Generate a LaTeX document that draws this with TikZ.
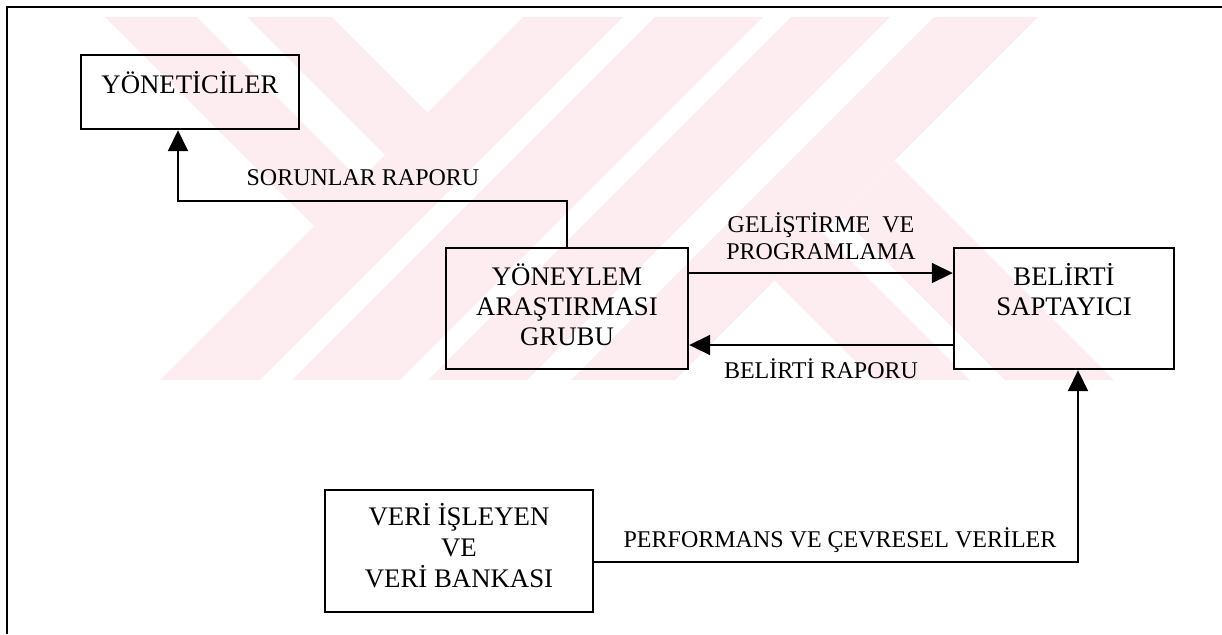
\documentclass[tikz,border=0pt]{standalone}
\usepackage{fontspec}
\setmainfont{Liberation Serif}
\usetikzlibrary{arrows.meta}
\definecolor{wmpink}{RGB}{253,237,240}
\begin{document}
\begin{tikzpicture}[x=0.5pt,y=-0.5pt,
  wm/.style={fill=wmpink},
  frameline/.style={line width=1pt},
  box/.style={draw,line width=1.2pt,inner sep=0pt},
  txt/.style={font=\fontsize{12}{15}\selectfont,align=center,inner sep=0pt},
  boxtxt/.style={txt,font=\fontsize{13.4}{15}\selectfont},
  arr/.style={line width=0.9pt,-{Triangle[length=10.5pt,width=10pt]}}]
\useasboundingbox (0,0) rectangle (1222,634);

% background stripes
\fill[wm] (105,17) -- (197,17) -- (360,180) -- (314,226) -- cycle;
\fill[wm] (247,17) -- (332,17) -- (427.5,112.5) -- (385,155) -- cycle;
\fill[wm] (523,17) -- (623,17) -- (260,380) -- (160,380) -- cycle;
\fill[wm] (655,17) -- (763,17) -- (400,380) -- (292,380) -- cycle;
\fill[wm] (791,17) -- (890,17) -- (527,380) -- (428,380) -- cycle;
\fill[wm] (934,17) -- (1038,17) -- (675,380) -- (571,380) -- cycle;
\fill[wm] (774.5,280.5) -- (822.5,232.5) -- (970,380) -- (874,380) -- cycle;
\fill[wm] (840,215) -- (894.5,160.5) -- (1114,380) -- (1005,380) -- cycle;

% frame
\draw[frameline] (1222,7) -- (7,7) -- (7,634);

% boxes
\node[box,minimum width=109pt,minimum height=37pt] (yon) at (190,92) {};
\node[box,minimum width=121pt,minimum height=60.5pt] (yar) at (567,308.5) {};
\node[box,minimum width=110pt,minimum height=60.5pt] (bel) at (1064,308.5) {};
\node[box,minimum width=134pt,minimum height=61pt] (veri) at (459,551) {};

% box texts
\node[boxtxt,anchor=base] (yonT) at (190,93) {YÖNETİCİLER};
\node[boxtxt] (yarT) at (567,304.5) {YÖNEYLEM\\ARAŞTIRMASI\\GRUBU};
\node[boxtxt] (belT) at (1064,289.5) {BELİRTİ\\SAPTAYICI};
\node[boxtxt,font=\fontsize{13.4}{15.5}\selectfont] (veriT) at (459,546) {VERİ İŞLEYEN\\VE\\VERİ BANKASI};

% connector labels
\node[txt,anchor=base] (sorT) at (363,185) {SORUNLAR RAPORU};
\node[txt,font=\fontsize{12}{13.5}\selectfont] (gelT) at (821,236.5) {GELİŞTİRME\ \ VE\\PROGRAMLAMA};
\node[txt,anchor=base] (brT) at (821,378) {BELİRTİ RAPORU};
\node[txt,anchor=base] (perT) at (840,547) {PERFORMANS VE ÇEVRESEL VERİLER};

% connectors
\coordinate (b1) at (178,201);
\coordinate (gy) at (0,273);
\coordinate (ry) at (0,345);
\coordinate (pc) at (1078,562);
\draw[arr] (yar.north) |- (b1) -- (b1 |- yon.south);
\draw[arr] (yar.east |- gy) -- (bel.west |- gy);
\draw[arr] (bel.west |- ry) -- (yar.east |- ry);
\draw[arr] (veri.east |- pc) -- (pc) -- (pc |- bel.south);
\end{tikzpicture}
\end{document}
